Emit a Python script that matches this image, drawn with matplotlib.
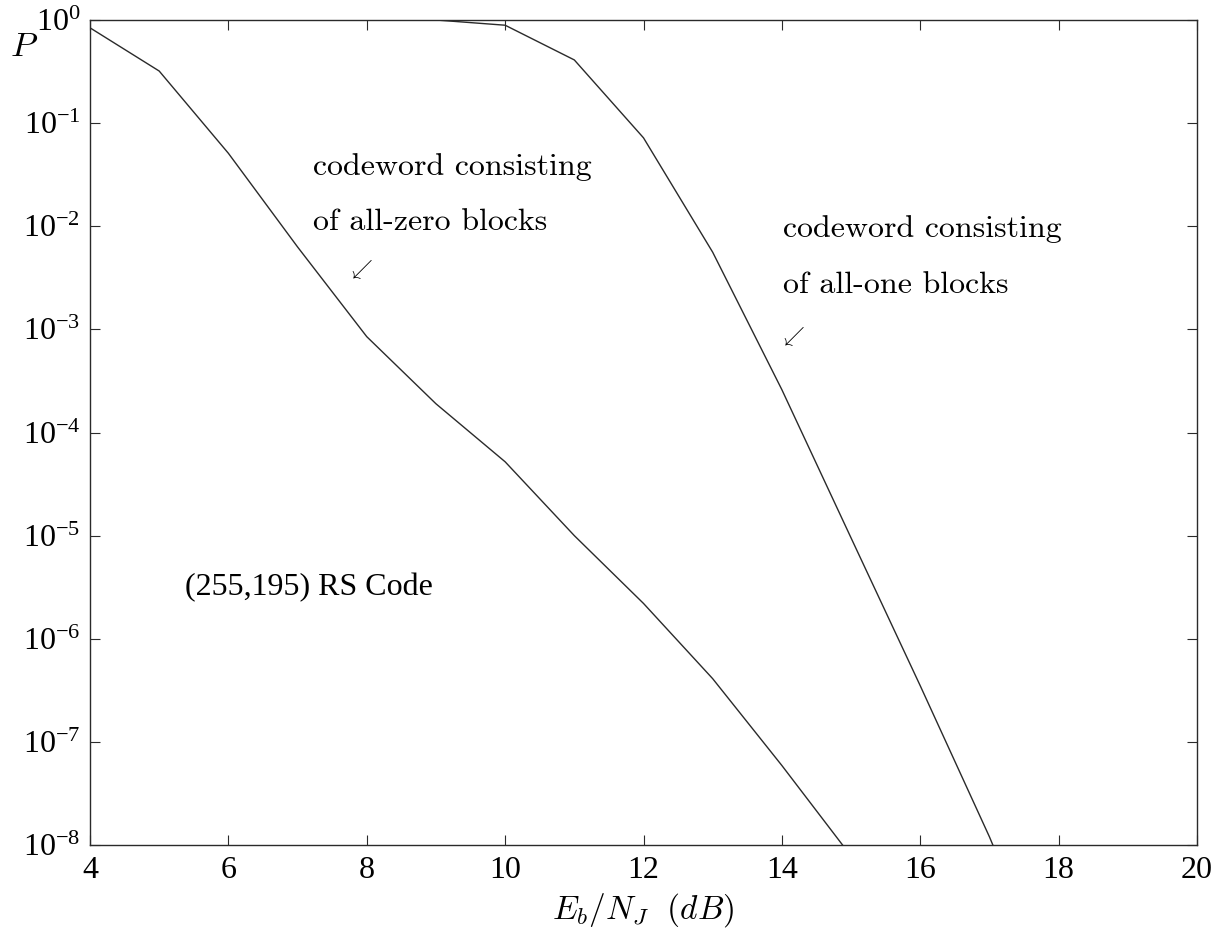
import math
import matplotlib
matplotlib.use("Agg")
import matplotlib.pyplot as plt
from matplotlib.ticker import FuncFormatter, FixedLocator, NullLocator

# ---- data ----
snr_zero = [4, 5, 6, 7, 8, 9, 10, 11, 12, 13, 14, 15]
p_zero = [0.84, 0.32, 0.051, 6.3e-3, 8.5e-4, 1.9e-4, 5.2e-5, 1.0e-5,
          2.2e-6, 4.1e-7, 5.9e-8, 7.8e-9]

snr_one = [9, 10, 11, 12, 13, 14, 15, 16, 17, 18]
p_one = [1.0, 0.89, 0.41, 0.072, 5.6e-3, 2.6e-4, 9.5e-6, 3.5e-7, 1.2e-8, 3e-10]

x_ticks = [4, 6, 8, 10, 12, 14, 16, 18, 20]
y_exps = [0, -1, -2, -3, -4, -5, -6, -7, -8]

label_zero = ["codeword consisting", "of all-zero blocks"]
label_one = ["codeword consisting", "of all-one blocks"]
code_label = "(255,195) RS Code"

# ---- style ----
plt.rcParams["font.family"] = ["Liberation Serif", "DejaVu Serif"]
plt.rcParams["mathtext.fontset"] = "custom"
plt.rcParams["mathtext.rm"] = "Liberation Serif"
plt.rcParams["mathtext.it"] = "Liberation Serif:italic"

W, H = 1226, 949
fig = plt.figure(figsize=(W / 100, H / 100), dpi=100)
L, R, T, B = 90, 1197, 20, 845
ax = fig.add_axes([L / W, 1 - B / H, (R - L) / W, (B - T) / H])

line_col = "#2a2a2a"
ax.plot(snr_zero, p_zero, color=line_col, lw=1.0)
ax.plot(snr_one, p_one, color=line_col, lw=1.0)

ax.set_yscale("log")
ax.set_xlim(4, 20)
ax.set_ylim(1e-8, 1e0)

ax.xaxis.set_major_locator(FixedLocator(x_ticks))
ax.yaxis.set_major_locator(FixedLocator([10.0 ** e for e in y_exps]))
ax.yaxis.set_minor_locator(NullLocator())
ax.xaxis.set_minor_locator(NullLocator())


def yfmt(v, pos):
    e = int(round(math.log10(v)))
    return r"$\mathregular{10^{%d}}$" % e


ax.yaxis.set_major_formatter(FuncFormatter(yfmt))
ax.tick_params(direction="in", length=7.5, width=0.8, top=True, right=True,
               labelsize=23, color=line_col)
ax.tick_params(axis="x", pad=8)
ax.tick_params(axis="y", pad=7)
for s in ax.spines.values():
    s.set_linewidth(1.0)
    s.set_color(line_col)

ax.set_xlabel(r"$E_b/N_J\ \ (dB)$", fontsize=24, math_fontfamily="cm",
              labelpad=4)

# P label
fig.text(10 / W, 1 - 56 / H, r"$P$", fontsize=25, math_fontfamily="cm",
         ha="left", va="baseline")


def ftext(px, py, s, **kw):
    fig.text(px / W, 1 - py / H, s, **kw)


ann_kw = dict(fontsize=23, fontfamily="cmr10", ha="left", va="baseline")
ftext(313, 175, label_zero[0], **ann_kw)
ftext(313, 230, label_zero[1], **ann_kw)
ftext(783, 237, label_one[0], **ann_kw)
ftext(783, 293, label_one[1], **ann_kw)

ftext(361, 270, r"$\swarrow$", fontsize=15, math_fontfamily="cm",
      ha="center", va="center")
ftext(793, 337, r"$\swarrow$", fontsize=15, math_fontfamily="cm",
      ha="center", va="center")

ftext(185, 595, code_label, fontsize=23, ha="left", va="baseline")

fig.savefig("out.png", dpi=100)
